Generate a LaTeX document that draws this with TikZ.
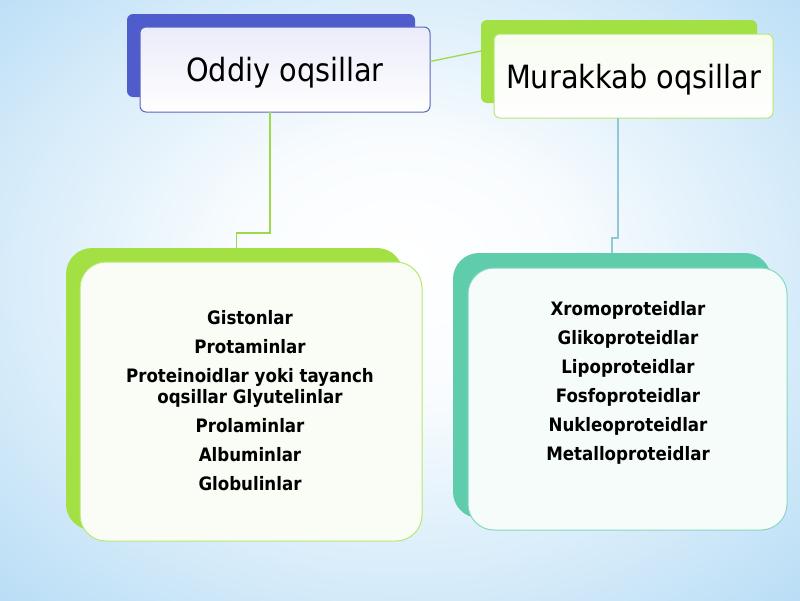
\documentclass[tikz,border=0pt]{standalone}
\usepackage{fontspec}
\setmainfont{DejaVu Sans Condensed}
\definecolor{bgblue}{HTML}{B4DBF5}
\definecolor{bgdeep}{HTML}{9CCFF2}
\definecolor{oddblue}{HTML}{4F5CCB}
\definecolor{oddedge}{HTML}{5A66BE}
\definecolor{limeg}{HTML}{A2E043}
\definecolor{limeedge}{HTML}{B6E872}
\definecolor{tealg}{HTML}{5FCDAB}
\definecolor{tealedge}{HTML}{86D8C4}
\definecolor{lconn}{HTML}{9ED94A}
\definecolor{rconn}{HTML}{92C7D6}
\pgfdeclareradialshading{bgshade}{\pgfpoint{0bp}{3bp}}{%
  color(0bp)=(white); color(10bp)=(white!92!bgblue); color(24bp)=(white!45!bgblue);
  color(36bp)=(bgblue); color(50bp)=(bgdeep)}
\tikzset{
  backbox/.style={rounded corners=#1, inner sep=0pt, outer sep=0pt},
  frontbox/.style={rounded corners=#1, inner sep=0pt, outer sep=0pt, line width=1pt},
  titletext/.style={font=\fontsize{32}{38}\selectfont, text=black},
  listtext/.style={font=\fontsize{18.5}{29}\selectfont\bfseries, align=center, text=black},
  conn/.style={line width=1.3pt}
}
\begin{document}
\begin{tikzpicture}[x=1pt,y=-1pt]
\useasboundingbox (0,0) rectangle (800,600);
% background
\shade[shading=bgshade] (-20,-20) rectangle (820,620);

% top-left: Oddiy oqsillar
\node[backbox=6pt, fill=oddblue, minimum width=288pt, minimum height=83pt] (oddback) at (271,55.5) {};
\node[frontbox=6pt, draw=oddedge, top color=white!88!oddblue, bottom color=white, minimum width=290pt, minimum height=85pt, titletext, text depth=-2pt] (oddiy) at (285,69.5) {Oddiy oqsillar};

% top-right: Murakkab oqsillar
\node[backbox=6pt, fill=limeg, minimum width=276pt, minimum height=83pt] (murback) at (619,61.5) {};
\node[frontbox=6pt, draw=limeedge, top color=white!92!limeg, bottom color=white, minimum width=279pt, minimum height=84pt, titletext, text depth=-2pt] (murakkab) at (633.5,76) {Murakkab oqsillar};

% bottom-left
\node[backbox=26pt, fill=limeg, minimum width=337pt, minimum height=282pt] (leftback) at (234.5,389) {};
\node[frontbox=26pt, draw=limeedge, fill=white!95!limeg, minimum width=342pt, minimum height=279pt] (leftbox) at (251,401.5) {};
\node[listtext] (leftlist) at (250,401) {Gistonlar\\Protaminlar\\Proteinoidlar yoki tayanch\\[-8pt]oqsillar Glyutelinlar\\Prolaminlar\\Albuminlar\\Globulinlar};

% bottom-right
\node[backbox=26pt, fill=tealg, minimum width=318pt, minimum height=265pt] (rightback) at (612,385.5) {};
\node[frontbox=26pt, draw=tealedge, fill=white!94!tealg, minimum width=319pt, minimum height=262pt] (rightbox) at (627.5,399) {};
\node[listtext] (rightlist) at (628,383) {Xromoproteidlar\\Glikoproteidlar\\Lipoproteidlar\\Fosfoproteidlar\\Nukleoproteidlar\\Metalloproteidlar};

% connectors
\draw[conn, lconn] ([yshift=8pt]oddiy.east) -- ([yshift=10.5pt]murback.west);
\draw[conn, lconn] ([xshift=-15pt]oddiy.south) -- ++(0,121) -| ([xshift=2pt]leftback.north);
\draw[conn, rconn] ([xshift=-15.5pt]murakkab.south) -- ++(0,120) -| (rightback.north);
\end{tikzpicture}
\end{document}
